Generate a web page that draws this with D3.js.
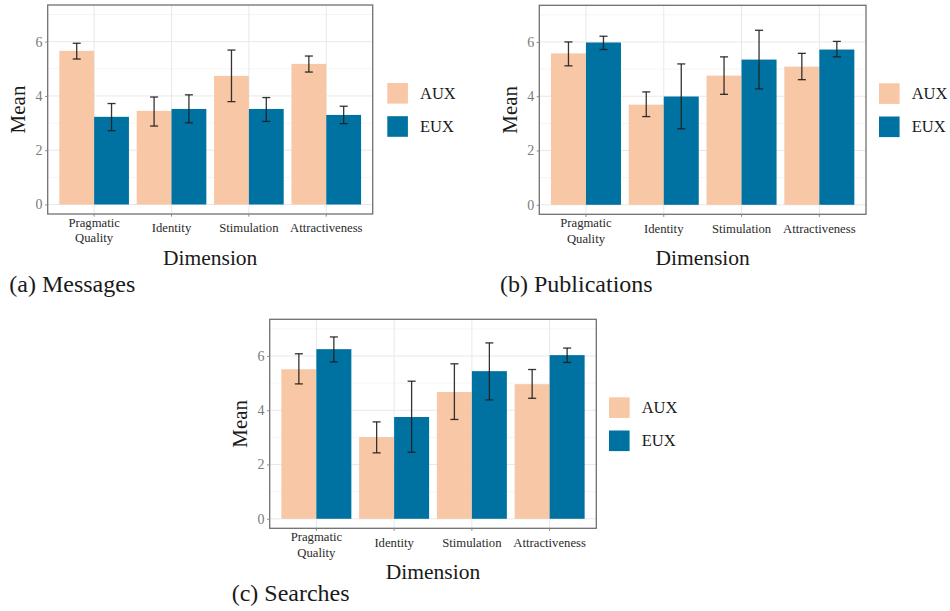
<!DOCTYPE html>
<html>
<head>
<meta charset="utf-8">
<script src="https://cdn.jsdelivr.net/npm/d3@7"></script>
<style>
  html, body { margin: 0; padding: 0; background: #fff; }
  svg { display: block; }
</style>
</head>
<body>
<svg id="chart" width="950" height="611"></svg>
<script>
// Dimensions of the UEQ questionnaire and the two conditions compared
const dimensions = ["Pragmatic Quality", "Identity", "Stimulation", "Attractiveness"];
const groups = ["AUX", "EUX"];
const groupColors = ["#F7C7A6", "#0072A1"];
const serif = "Liberation Serif";

// (a) Messages: means and error-bar bounds
const messagesAUX = [5.66, 3.45, 4.74, 5.18];
const messagesAUXLow = [5.36, 2.89, 3.79, 4.88];
const messagesAUXHigh = [5.94, 3.96, 5.69, 5.47];
const messagesEUX = [3.23, 3.52, 3.52, 3.30];
const messagesEUXLow = [2.72, 3.01, 3.06, 2.98];
const messagesEUXHigh = [3.72, 4.04, 3.94, 3.62];

// (b) Publications
const publicationsAUX = [5.58, 3.69, 4.76, 5.09];
const publicationsAUXLow = [5.12, 3.25, 4.07, 4.61];
const publicationsAUXHigh = [6.00, 4.16, 5.45, 5.58];
const publicationsEUX = [5.98, 3.99, 5.35, 5.72];
const publicationsEUXLow = [5.72, 2.80, 4.27, 5.45];
const publicationsEUXHigh = [6.21, 5.19, 6.43, 6.02];

// (c) Searches
const searchesAUX = [5.51, 3.01, 4.67, 4.96];
const searchesAUXLow = [4.97, 2.43, 3.66, 4.44];
const searchesAUXHigh = [6.08, 3.57, 5.71, 5.50];
const searchesEUX = [6.25, 3.75, 5.44, 6.03];
const searchesEUXLow = [5.78, 2.45, 4.38, 5.76];
const searchesEUXHigh = [6.70, 5.07, 6.48, 6.29];

// Axis ticks
const yTicks = [0, 2, 4, 6];
const yMinorTicks = [1, 3, 5, 7];
const yLimits = [0, 7];

// Build rows for one panel from its arrays
function rows(aux, auxLo, auxHi, eux, euxLo, euxHi) {
  const out = [];
  dimensions.forEach((d, i) => {
    out.push({ dim: d, group: "AUX", mean: aux[i], lo: auxLo[i], hi: auxHi[i] });
    out.push({ dim: d, group: "EUX", mean: eux[i], lo: euxLo[i], hi: euxHi[i] });
  });
  return out;
}

const panels = [
  { caption: "(a) Messages",
    data: rows(messagesAUX, messagesAUXLow, messagesAUXHigh, messagesEUX, messagesEUXLow, messagesEUXHigh),
    box: { left: 47.7, top: 5, right: 372.7, bottom: 214 }, legendX: 387.3, captionX: 9.3, captionY: 292.3 },
  { caption: "(b) Publications",
    data: rows(publicationsAUX, publicationsAUXLow, publicationsAUXHigh, publicationsEUX, publicationsEUXLow, publicationsEUXHigh),
    box: { left: 539.3, top: 5.3, right: 866, bottom: 214.3 }, legendX: 879, captionX: 500, captionY: 292.3 },
  { caption: "(c) Searches",
    data: rows(searchesAUX, searchesAUXLow, searchesAUXHigh, searchesEUX, searchesEUXLow, searchesEUXHigh),
    box: { left: 269.7, top: 319.3, right: 596.3, bottom: 528.3 }, legendX: 609, captionX: 231.7, captionY: 600.5 }
];

const svg = d3.select("#chart");
const color = d3.scaleOrdinal().domain(groups).range(groupColors);

function label(sel, size, fill) {
  return sel.style("font-family", serif).attr("font-size", size).attr("fill", fill);
}

function drawPanel(p) {
  const b = p.box;
  const g = svg.append("g");
  const pad = (yLimits[1] - yLimits[0]) * 0.05;
  const y = d3.scaleLinear().domain([yLimits[0] - pad, yLimits[1] + pad]).range([b.bottom, b.top]);
  const x = d3.scaleBand().domain(dimensions).range([b.left, b.right]).paddingInner(0.1).paddingOuter(0.15);
  const xg = d3.scaleBand().domain(groups).range([0, x.bandwidth()]).padding(0);
  const center = d => x(d) + x.bandwidth() / 2;

  // background grid
  g.append("g").selectAll("line").data(yMinorTicks).join("line")
    .attr("x1", b.left).attr("x2", b.right)
    .attr("y1", d => y(d)).attr("y2", d => y(d))
    .attr("stroke", "#f2f2f2").attr("stroke-width", 0.8);
  g.append("g").selectAll("line").data(yTicks).join("line")
    .attr("x1", b.left).attr("x2", b.right)
    .attr("y1", d => y(d)).attr("y2", d => y(d))
    .attr("stroke", "#e8e8e8").attr("stroke-width", 1);
  g.append("g").selectAll("line").data(dimensions).join("line")
    .attr("x1", d => center(d)).attr("x2", d => center(d))
    .attr("y1", b.top).attr("y2", b.bottom)
    .attr("stroke", "#e8e8e8").attr("stroke-width", 1);

  // bars
  g.append("g").selectAll("rect").data(p.data).join("rect")
    .attr("x", d => x(d.dim) + xg(d.group))
    .attr("width", xg.bandwidth())
    .attr("y", d => y(d.mean))
    .attr("height", d => y(0) - y(d.mean))
    .attr("fill", d => color(d.group));

  // error bars
  const capHalf = xg.bandwidth() * 0.115;
  const eb = g.append("g").attr("stroke", "#1e1e1e").attr("stroke-width", 1.3).attr("stroke-opacity", 0.9);
  p.data.forEach(d => {
    const cx = x(d.dim) + xg(d.group) + xg.bandwidth() / 2;
    eb.append("line").attr("x1", cx).attr("x2", cx).attr("y1", y(d.lo)).attr("y2", y(d.hi));
    eb.append("line").attr("x1", cx - capHalf).attr("x2", cx + capHalf).attr("y1", y(d.hi)).attr("y2", y(d.hi));
    eb.append("line").attr("x1", cx - capHalf).attr("x2", cx + capHalf).attr("y1", y(d.lo)).attr("y2", y(d.lo));
  });

  // panel border
  g.append("rect")
    .attr("x", b.left).attr("y", b.top)
    .attr("width", b.right - b.left).attr("height", b.bottom - b.top)
    .attr("fill", "none").attr("stroke", "#707070").attr("stroke-width", 1.3);

  // y axis
  const yAxis = g.append("g").attr("transform", `translate(${b.left},0)`)
    .call(d3.axisLeft(y).tickValues(yTicks).tickSize(2.6).tickPadding(2.5).tickFormat(d3.format("d")));
  yAxis.select(".domain").remove();
  yAxis.selectAll(".tick line").attr("stroke", "#8a8a8a");
  label(yAxis.selectAll(".tick text"), 14, "#7a7a7a");

  // x axis ticks
  const xAxis = g.append("g").attr("transform", `translate(0,${b.bottom})`)
    .call(d3.axisBottom(x).tickSize(2.6).tickFormat(""));
  xAxis.select(".domain").remove();
  xAxis.selectAll(".tick line").attr("stroke", "#8a8a8a");

  // x tick labels (wrapped to two lines where needed)
  dimensions.forEach(d => {
    const words = d === "Pragmatic Quality" ? ["Pragmatic", "Quality"] : [d];
    const t = label(g.append("text").attr("text-anchor", "middle"), 12.7, "#2b2b2b");
    if (words.length === 2) {
      t.append("tspan").attr("x", center(d)).attr("y", b.bottom + 12.7).text(words[0]);
      t.append("tspan").attr("x", center(d)).attr("y", b.bottom + 28.3).text(words[1]);
    } else {
      t.append("tspan").attr("x", center(d)).attr("y", b.bottom + 18.3).text(words[0]);
    }
  });

  // axis titles
  label(g.append("text"), 21.5, "#1a1a1a")
    .attr("x", (b.left + b.right) / 2).attr("y", b.bottom + 51)
    .attr("text-anchor", "middle")
    .text("Dimension");
  label(g.append("text"), 21, "#1a1a1a")
    .attr("transform", `translate(${b.left - 22.7},${(b.top + b.bottom) / 2}) rotate(-90)`)
    .attr("text-anchor", "middle")
    .text("Mean");

  // legend
  const mid = (b.top + b.bottom) / 2;
  const lg = g.append("g");
  groups.forEach((grp, i) => {
    const top = mid - 26.5 + i * 33.2;
    lg.append("rect").attr("x", p.legendX).attr("y", top)
      .attr("width", 20.6).attr("height", 20.6).attr("fill", color(grp));
    label(lg.append("text"), 16.5, "#1a1a1a")
      .attr("x", p.legendX + 32.7).attr("y", top + 10.3 + 5.4)
      .text(grp);
  });

  // caption
  label(g.append("text"), 24, "#1a1a1a")
    .attr("x", p.captionX).attr("y", p.captionY)
    .text(p.caption);
}

panels.forEach(drawPanel);
</script>
</body>
</html>
